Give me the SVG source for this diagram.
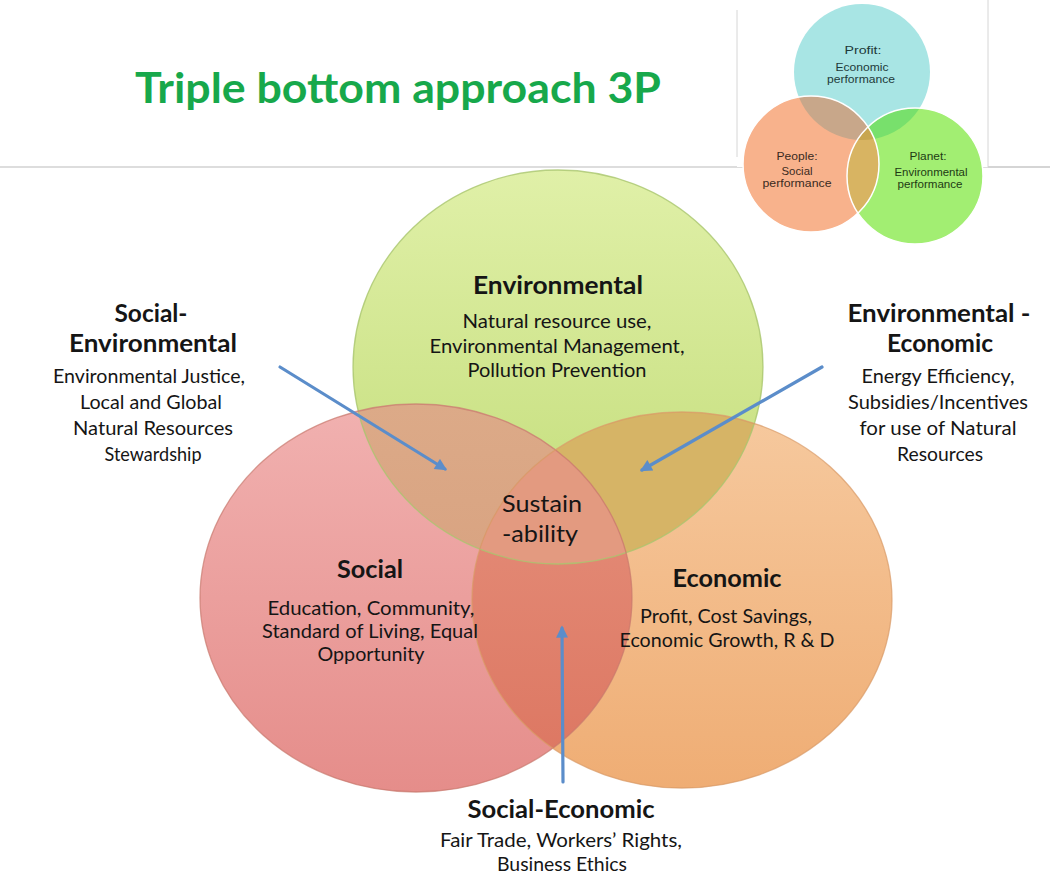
<svg xmlns="http://www.w3.org/2000/svg" width="1050" height="880" viewBox="0 0 1050 880">
<style>
.t{font-family:Lato,"Open Sans","Liberation Sans",sans-serif;fill:#151515;text-anchor:middle}
.b{font-weight:700;font-size:24px}
.r{font-size:19px}
.s{font-size:23px}
.i{font-family:"Liberation Sans",Arial,sans-serif;font-size:11.5px;text-anchor:middle}
.arrow{stroke:#5b8dca;stroke-width:3.2;fill:none;stroke-linecap:round}
</style>
<defs>
<clipPath id="cG"><ellipse cx="558" cy="367" rx="205" ry="197"/></clipPath>
<clipPath id="cR"><ellipse cx="416" cy="598" rx="216" ry="194"/></clipPath>
<clipPath id="cO"><ellipse cx="682" cy="600" rx="210" ry="188"/></clipPath>
<clipPath id="iC"><circle cx="862" cy="72" r="68"/></clipPath>
<clipPath id="iP"><circle cx="811" cy="164" r="68"/></clipPath>
<clipPath id="iN"><circle cx="915" cy="176" r="68"/></clipPath>
<linearGradient id="gG" x1="0" y1="0" x2="0" y2="1"><stop offset="0" stop-color="#e0f0a8"/><stop offset="1" stop-color="#c2dc78"/></linearGradient>
<linearGradient id="gR" x1="0" y1="0" x2="0" y2="1"><stop offset="0" stop-color="#f1b1b0"/><stop offset="1" stop-color="#e58d8a"/></linearGradient>
<linearGradient id="gO" x1="0" y1="0" x2="0" y2="1"><stop offset="0" stop-color="#f6c99e"/><stop offset="1" stop-color="#efad74"/></linearGradient>
<linearGradient id="gGR" x1="0" y1="0" x2="0" y2="1"><stop offset="0" stop-color="#dcaa88"/><stop offset="1" stop-color="#d49a78"/></linearGradient>
<linearGradient id="gRO" x1="0" y1="0" x2="0" y2="1"><stop offset="0" stop-color="#e6927e"/><stop offset="1" stop-color="#dc7560"/></linearGradient>
<marker id="ah" viewBox="0 0 10 10" refX="8" refY="5" markerWidth="14" markerHeight="12" markerUnits="userSpaceOnUse" orient="auto"><path d="M0,0 L10,5 L0,10 z" fill="#5b8dca"/></marker>
</defs>
<rect width="1050" height="880" fill="#ffffff"/>
<line x1="0" y1="167" x2="1050" y2="167" stroke="#d2d2d2" stroke-width="1.5"/>
<text id="title" x="398" y="103" textLength="526" lengthAdjust="spacingAndGlyphs" style="font-family:Lato,'Open Sans',sans-serif;font-weight:700;font-size:42px;fill:#17a84b;text-anchor:middle">Triple bottom approach 3P</text>

<g id="inset">
<rect x="737" y="0" width="251" height="167" fill="#ffffff"/>
<line x1="737" y1="10" x2="737" y2="157" stroke="#d6d6d6" stroke-width="1"/>
<line x1="988" y1="0" x2="988" y2="167" stroke="#d6d6d6" stroke-width="1"/>
<line x1="988" y1="167" x2="1050" y2="167" stroke="#d2d2d2" stroke-width="1.5"/>
<circle cx="862" cy="72" r="68" fill="#a8e5e4"/>
<circle cx="811" cy="164" r="68" fill="#f8b28c"/>
<circle cx="915" cy="176" r="68" fill="#a2ee72"/>
<g clip-path="url(#iC)"><circle cx="811" cy="164" r="68" fill="#c8a78a"/><circle cx="915" cy="176" r="68" fill="#78e06c"/></g>
<g clip-path="url(#iP)"><circle cx="915" cy="176" r="68" fill="#d8b462"/></g>
<g clip-path="url(#iC)"><g clip-path="url(#iP)"><circle cx="915" cy="176" r="68" fill="#c8a650"/></g></g>
<circle cx="811" cy="164" r="68" fill="none" stroke="#ffffff" stroke-width="1.5"/>
<circle cx="915" cy="176" r="68" fill="none" stroke="#ffffff" stroke-width="1.5"/>
<text class="i" x="863" y="54" fill="#1e3a3a" textLength="37" lengthAdjust="spacingAndGlyphs">Profit:</text>
<text class="i" x="862" y="71" fill="#1e3a3a" textLength="53" lengthAdjust="spacingAndGlyphs">Economic</text>
<text class="i" x="861" y="83" fill="#1e3a3a" textLength="68" lengthAdjust="spacingAndGlyphs">performance</text>
<text class="i" x="797" y="160" fill="#3a2a1e" textLength="41" lengthAdjust="spacingAndGlyphs">People:</text>
<text class="i" x="797" y="175" fill="#3a2a1e" textLength="31" lengthAdjust="spacingAndGlyphs">Social</text>
<text class="i" x="797" y="187" fill="#3a2a1e" textLength="69" lengthAdjust="spacingAndGlyphs">performance</text>
<text class="i" x="928" y="160" fill="#1e3a14" textLength="37" lengthAdjust="spacingAndGlyphs">Planet:</text>
<text class="i" x="931" y="176" fill="#1e3a14" textLength="73" lengthAdjust="spacingAndGlyphs">Environmental</text>
<text class="i" x="930" y="188" fill="#1e3a14" textLength="65" lengthAdjust="spacingAndGlyphs">performance</text>
</g>

<g id="venn">
<ellipse cx="558" cy="367" rx="205" ry="197" fill="url(#gG)"/>
<ellipse cx="416" cy="598" rx="216" ry="194" fill="url(#gR)"/>
<ellipse cx="682" cy="600" rx="210" ry="188" fill="url(#gO)"/>
<g clip-path="url(#cG)"><ellipse cx="416" cy="598" rx="216" ry="194" fill="url(#gGR)"/><ellipse cx="682" cy="600" rx="210" ry="188" fill="#d6b466"/></g>
<g clip-path="url(#cR)"><ellipse cx="682" cy="600" rx="210" ry="188" fill="url(#gRO)"/></g>
<g clip-path="url(#cG)"><g clip-path="url(#cR)"><ellipse cx="682" cy="600" rx="210" ry="188" fill="#e39a80"/></g></g>
<ellipse cx="558" cy="367" rx="205" ry="197" fill="none" stroke="#a9c66e" stroke-opacity="0.8" stroke-width="1.3"/>
<ellipse cx="416" cy="598" rx="216" ry="194" fill="none" stroke="#c7786c" stroke-opacity="0.7" stroke-width="1.3"/>
<ellipse cx="682" cy="600" rx="210" ry="188" fill="none" stroke="#d99a66" stroke-opacity="0.7" stroke-width="1.3"/>
</g>

<g id="environmental">
<text class="t b" x="558" y="294" textLength="170" lengthAdjust="spacingAndGlyphs">Environmental</text>
<text class="t r" x="557" y="328" textLength="189" lengthAdjust="spacingAndGlyphs">Natural resource use,</text>
<text class="t r" x="557" y="353" textLength="255" lengthAdjust="spacingAndGlyphs">Environmental Management,</text>
<text class="t r" x="557" y="377" textLength="179" lengthAdjust="spacingAndGlyphs">Pollution Prevention</text>
</g>
<g id="sustainability">
<text class="t s" x="542" y="512" textLength="80" lengthAdjust="spacingAndGlyphs">Sustain</text>
<text class="t s" x="540" y="542" textLength="76" lengthAdjust="spacingAndGlyphs">-ability</text>
</g>
<g id="social">
<text class="t b" x="370" y="578" textLength="66" lengthAdjust="spacingAndGlyphs">Social</text>
<text class="t r" x="371" y="615" textLength="207" lengthAdjust="spacingAndGlyphs">Education, Community,</text>
<text class="t r" x="370" y="638" textLength="216" lengthAdjust="spacingAndGlyphs">Standard of Living, Equal</text>
<text class="t r" x="371" y="661" textLength="107" lengthAdjust="spacingAndGlyphs">Opportunity</text>
</g>
<g id="economic">
<text class="t b" x="727" y="587" textLength="109" lengthAdjust="spacingAndGlyphs">Economic</text>
<text class="t r" x="726" y="623" textLength="172" lengthAdjust="spacingAndGlyphs">Profit, Cost Savings,</text>
<text class="t r" x="727" y="647" textLength="215" lengthAdjust="spacingAndGlyphs">Economic Growth, R &amp; D</text>
</g>

<g id="connectors">
<line class="arrow" x1="280" y1="367" x2="445" y2="469" marker-end="url(#ah)"/>
<line class="arrow" x1="822" y1="367" x2="642" y2="470" marker-end="url(#ah)"/>
<line class="arrow" x1="563" y1="782" x2="562" y2="628" marker-end="url(#ah)"/>
</g>

<g id="social-environmental">
<text class="t b" x="151" y="322" textLength="73" lengthAdjust="spacingAndGlyphs">Social-</text>
<text class="t b" x="153" y="352" textLength="168" lengthAdjust="spacingAndGlyphs">Environmental</text>
<text class="t r" x="149" y="383" textLength="192" lengthAdjust="spacingAndGlyphs">Environmental Justice,</text>
<text class="t r" x="151" y="409" textLength="142" lengthAdjust="spacingAndGlyphs">Local and Global</text>
<text class="t r" x="153" y="435" textLength="160" lengthAdjust="spacingAndGlyphs">Natural Resources</text>
<text class="t r" x="153" y="461" textLength="97" lengthAdjust="spacingAndGlyphs">Stewardship</text>
</g>
<g id="environmental-economic">
<text class="t b" x="939" y="322" textLength="183" lengthAdjust="spacingAndGlyphs">Environmental -</text>
<text class="t b" x="940" y="352" textLength="106" lengthAdjust="spacingAndGlyphs">Economic</text>
<text class="t r" x="938" y="383" textLength="153" lengthAdjust="spacingAndGlyphs">Energy Efficiency,</text>
<text class="t r" x="938" y="409" textLength="180" lengthAdjust="spacingAndGlyphs">Subsidies/Incentives</text>
<text class="t r" x="938" y="435" textLength="157" lengthAdjust="spacingAndGlyphs">for use of Natural</text>
<text class="t r" x="940" y="461" textLength="86" lengthAdjust="spacingAndGlyphs">Resources</text>
</g>
<g id="social-economic">
<text class="t b" x="561" y="818" textLength="187" lengthAdjust="spacingAndGlyphs">Social-Economic</text>
<text class="t r" x="561" y="847" textLength="242" lengthAdjust="spacingAndGlyphs">Fair Trade, Workers’ Rights,</text>
<text class="t r" x="562" y="871" textLength="130" lengthAdjust="spacingAndGlyphs">Business Ethics</text>
</g>
</svg>
